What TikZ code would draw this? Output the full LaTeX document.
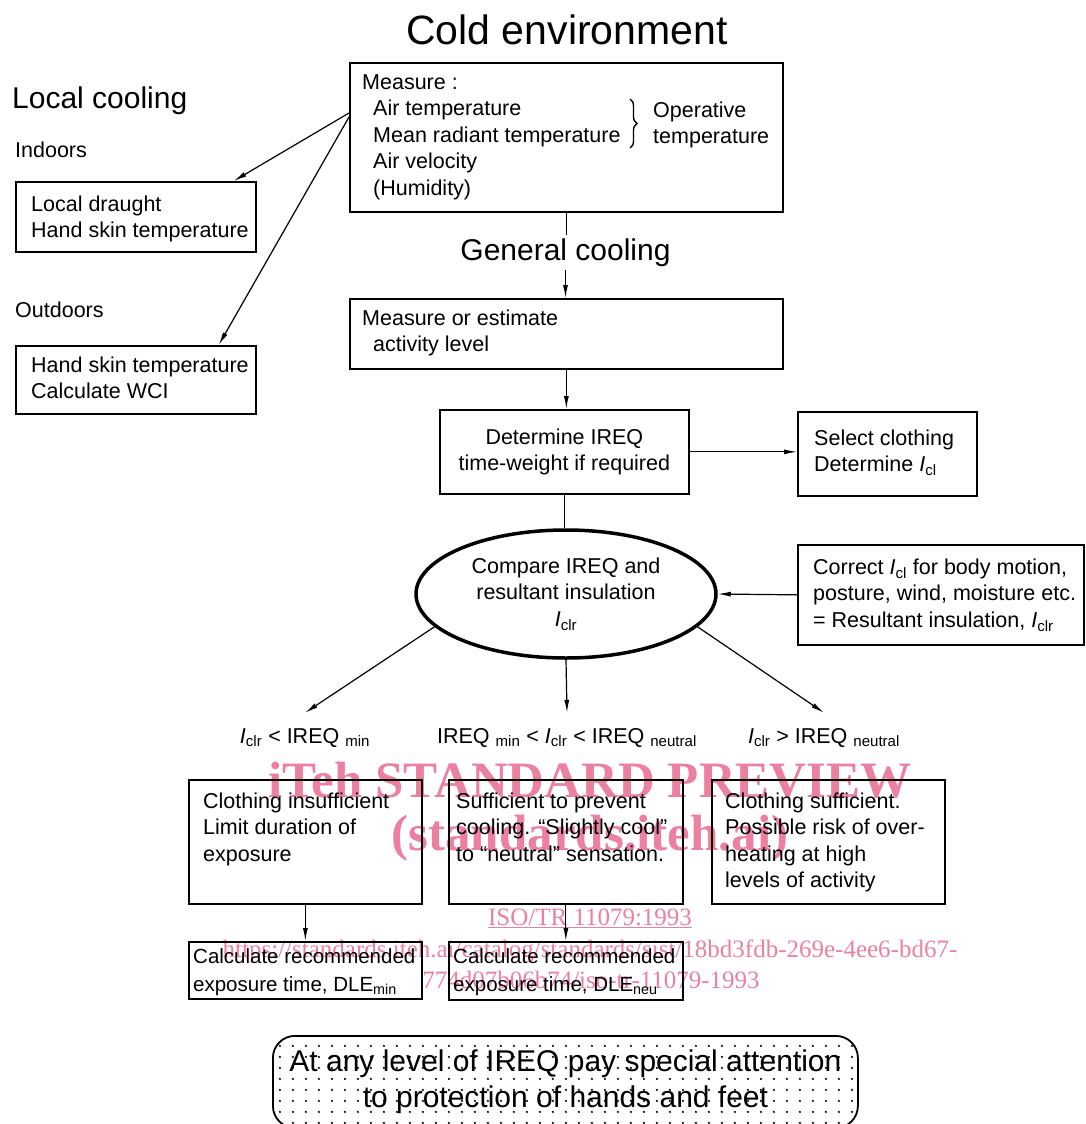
\documentclass[tikz,border=0pt]{standalone}
\usepackage{fontspec}
\setmainfont{Liberation Sans}
\newfontfamily\wmfont{Liberation Serif}
\usetikzlibrary{arrows.meta,decorations.pathreplacing,shapes.geometric}
\definecolor{wmpink}{RGB}{236,128,160}
\newcommand{\Icl}{\textit{I}\textsubscript{cl}}
\newcommand{\Iclr}{\textit{I}\textsubscript{clr}}

\begin{document}
\begin{tikzpicture}[x=1pt,y=-1pt,
	box/.style={draw,line width=1.7pt,anchor=north west,inner sep=0pt},
	txt/.style={align=left,inner sep=0pt,anchor=north west,font=\fontsize{21.5}{26.5}\selectfont},
	ctxt/.style={align=center,font=\fontsize{21.5}{26.5}\selectfont},
	cond/.style={inner xsep=0pt,inner ysep=15pt,anchor=base,font=\fontsize{21.5}{26.5}\selectfont},
	arr/.style={line width=1.2pt,-{Latex[length=13pt,width=5pt]}},
	lin/.style={line width=1.2pt},
	wm/.style={text=wmpink,inner sep=0pt,anchor=base,font=\wmfont\fontsize{25}{25}\selectfont},
	wmbig/.style={wm,font=\wmfont\bfseries\fontsize{51}{51}\selectfont}]

	\useasboundingbox (0,0) rectangle (1085,1124);

	% watermark
	\node[wmbig] (wm1) at (590,797) {iTeh STANDARD PREVIEW};
	\node[wmbig] (wm2) at (590,850) {(standards.iteh.ai)};
	\node[wm] (wm3) at (590,925) {\underline{ISO/TR 11079:1993}};
	\node[wm] (wm4) at (590,957) {https://standards.iteh.ai/catalog/standards/sist/18bd3fdb-269e-4ee6-bd67-};
	\node[wm] (wm5) at (591,988) {774d07b06b74/iso-tr-11079-1993};

	% headings
	\node[anchor=base,font=\fontsize{41}{41}\selectfont] (title) at (567,45) {Cold environment};
	\node[anchor=base west,inner sep=0pt,font=\fontsize{30}{30}\selectfont] (local) at (12,108) {Local cooling};
	\node[anchor=base west,inner sep=0pt,font=\fontsize{21.5}{26.5}\selectfont] (indoors) at (15,157) {Indoors};
	\node[anchor=base west,inner sep=0pt,font=\fontsize{21.5}{26.5}\selectfont] (outdoors) at (15,317) {Outdoors};
	\node[anchor=base,font=\fontsize{30}{30}\selectfont] (general) at (565.5,260) {General cooling};

	% measurement
	\node[box,minimum width=433pt,minimum height=149pt] (measure) at (349,62) {};
	\node[txt] (measuretxt) at (362,74.5) {Measure :\\\hspace*{11pt}Air temperature\\\hspace*{11pt}Mean radiant temperature\\\hspace*{11pt}Air velocity\\\hspace*{11pt}(Humidity)};
	\draw[decorate,decoration={brace,amplitude=7pt},line width=1.4pt] (630,99) -- (630,148);
	\node[txt] (operative) at (653,101.5) {Operative\\temperature};

	% local cooling
	\node[box,minimum width=240pt,minimum height=70pt] (indoor) at (15,181) {};
	\node[txt] (indoortxt) at (31,195.5) {Local draught\\Hand skin temperature};
	\node[box,minimum width=240pt,minimum height=68pt] (outdoor) at (15,345) {};
	\node[txt] (outdoortxt) at (31,356.5) {Hand skin temperature\\Calculate WCI};

	% general cooling
	\node[box,minimum width=433pt,minimum height=70pt] (activity) at (349,298) {};
	\node[txt] (activitytxt) at (362,309.5) {Measure or estimate\\\hspace*{11pt}activity level};
	\node[box,ctxt,minimum width=249pt,minimum height=84pt] (ireq) at (439,409) {Determine IREQ\\time-weight if required};
	\node[box,minimum width=179pt,minimum height=84pt] (select) at (797,411) {};
	\node[txt] (selecttxt) at (814,429.5) {Select clothing\\Determine \Icl};
	\node[draw,ellipse,line width=3.5pt,minimum width=300pt,minimum height=128pt,inner sep=0pt,ctxt] (compare) at (566,594) {Compare IREQ and\\resultant insulation\\\Iclr};
	\node[box,minimum width=286pt,minimum height=100pt] (correct) at (797,544) {};
	\node[txt] (correcttxt) at (813,558.5) {Correct \Icl\ for body motion,\\posture, wind, moisture etc.\\= Resultant insulation, \Iclr};

	% outcomes
	\node[cond] (lowlab) at (305,743) {\Iclr\ < IREQ \textsubscript{min}};
	\node[cond] (midlab) at (567,743) {IREQ \textsubscript{min} < \Iclr\ < IREQ \textsubscript{neutral}};
	\node[cond] (highlab) at (824,743) {\Iclr\ > IREQ \textsubscript{neutral}};

	\node[box,minimum width=233pt,minimum height=124pt] (insuff) at (188,779) {};
	\node[txt] (insufftxt) at (203,792.5) {Clothing insufficient\\Limit duration of\\exposure};
	\node[box,minimum width=234pt,minimum height=124pt] (suff) at (448,779) {};
	\node[txt] (sufftxt) at (456,792.5) {Sufficient to prevent\\cooling. “Slightly cool”\\to “neutral” sensation.};
	\node[box,minimum width=233pt,minimum height=124pt] (over) at (711,779) {};
	\node[txt] (overtxt) at (725,792.5) {Clothing sufficient.\\Possible risk of over-\\heating at high\\levels of activity};

	\node[box,minimum width=233pt,minimum height=57pt] (dlemin) at (188,941) {};
	\node[txt,font=\fontsize{20.5}{28}\selectfont] (dlemintxt) at (193,948) {Calculate recommended\\exposure time, DLE\textsubscript{min}};
	\node[box,minimum width=234pt,minimum height=58pt] (dleneu) at (448,941) {};
	\node[txt,font=\fontsize{20.5}{28}\selectfont] (dleneutxt) at (453,948) {Calculate recommended\\exposure time, DLE\textsubscript{neu}};

	% dotted note
	\node[box,rounded corners=22pt,line width=1.8pt,minimum width=585pt,minimum height=92pt,align=center,font=\fontsize{30}{36}\selectfont,
		path picture={\foreach \dy in {10,21,...,90} \foreach \dx in {7,20,...,585}
			\fill ([xshift=\dx pt,yshift=-\dy pt]path picture bounding box.north west) circle (1.2pt);}] (note) at (272,1035)
		{At any level of IREQ pay special attention\\to protection of hands and feet};

	% connectors
	\draw[arr] ([yshift=-51pt]measure.north west) -- ([xshift=-23pt]indoor.north east);
	\draw[arr] ([yshift=-55pt]measure.north west) -- ([xshift=-38pt]outdoor.north east);
	\draw[lin] (measure.south) -- (measure.south |- general.north);
	\draw[arr] (general.south) -- (general.south |- activity.north);
	\draw[arr] (activity.south) -- (activity.south |- ireq.north);
	\draw[arr] (ireq.east) -- (ireq.east -| select.west);
	\draw[lin] (ireq.south) -- (ireq.south |- compare.north);
	\draw[arr] (correct.west) -- (compare.east);
	\draw[arr] (compare.194) -- (lowlab.north);
	\draw[arr] (compare.south) -- (midlab.north);
	\draw[arr] (compare.-14) -- (highlab.north);
	\draw[arr] (insuff.south) -- (dlemin.north);
	\draw[arr] (suff.south) -- (dleneu.north);

\end{tikzpicture}
\end{document}
